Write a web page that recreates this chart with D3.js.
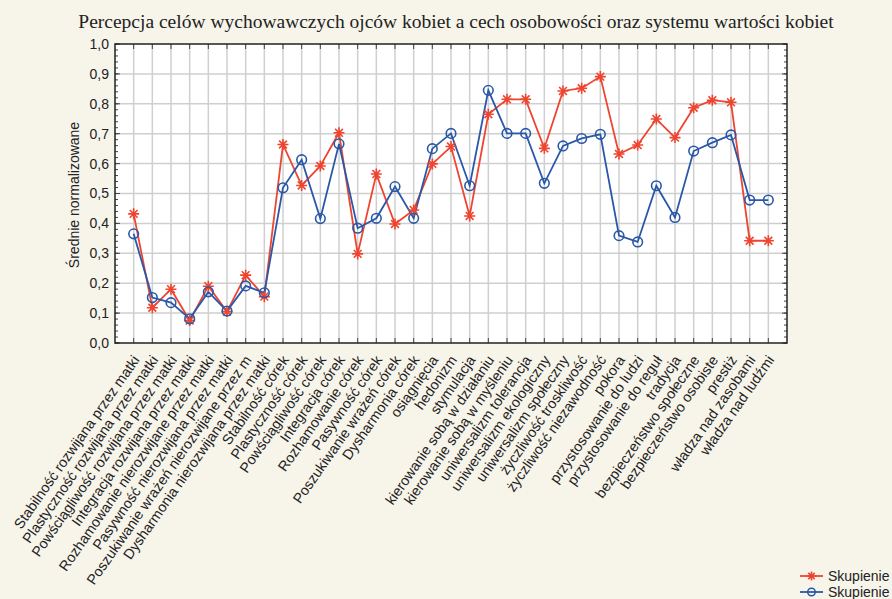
<!DOCTYPE html>
<html><head><meta charset="utf-8">
<script src="https://cdn.jsdelivr.net/npm/d3@7"></script>
<style>body{margin:0;background:#f7f4ea;} svg{display:block;}</style>
</head><body>
<svg id="chart" width="892" height="599"></svg>
<script>
const titleText = "Percepcja celów wychowawczych ojców kobiet a cech osobowości oraz systemu wartości kobiet";
const yLabel = "Średnie normalizowane";
const categories = [
 "Stabilność rozwijana przez matki","Plastyczność rozwijana przez matki","Powściągliwość rozwijana przez matki","Integracja rozwijana przez matki",
 "Rozhamowanie nierozwijane przez matki","Pasywność nierozwijana przez matki","Poszukiwanie wrażeń nierozwijane przez m","Dysharmonia nierozwijana przez matki",
 "Stabilność córek","Plastyczność córek","Powściągliwość córek","Integracja córek","Rozhamowanie córek","Pasywność córek","Poszukiwanie wrażeń córek","Dysharmonia córek",
 "osiągnięcia","hedonizm","stymulacja","kierowanie sobą w działaniu","kierowanie sobą w myśleniu","uniwersalizm tolerancja","uniwersalizm ekologiczny","uniwersalizm społeczny",
 "życzliwość troskliwość","życzliwość niezawodność","pokora","przystosowanie do ludzi","przystosowanie do reguł","tradycja","bezpieczeństwo społeczne","bezpieczeństwo osobiste",
 "prestiż","władza nad zasobami","władza nad ludźmi"];
const seriesRed = [0.432,0.118,0.180,0.075,0.190,0.105,0.227,0.155,0.664,0.527,0.592,0.703,0.298,0.565,0.398,0.445,0.599,0.657,0.425,0.765,0.815,0.815,0.651,0.843,0.852,0.891,0.632,0.662,0.749,0.687,0.787,0.812,0.805,0.342,0.342];
const seriesBlue = [0.365,0.152,0.135,0.081,0.171,0.107,0.191,0.168,0.519,0.613,0.416,0.666,0.384,0.417,0.523,0.417,0.650,0.701,0.526,0.845,0.701,0.701,0.534,0.659,0.684,0.698,0.359,0.338,0.526,0.420,0.642,0.670,0.696,0.478,0.478];
const seriesNames = ["Skupienie","Skupienie"];
const yTicks = [0,0.1,0.2,0.3,0.4,0.5,0.6,0.7,0.8,0.9,1.0];

const svg = d3.select("#chart");
const L=115, R=787, T=44, B=343;
const x = d3.scalePoint().domain(d3.range(categories.length)).range([L,R]).padding(1);
const y = d3.scaleLinear().domain([0,1]).range([B,T]);
const red="#ee4530", blue="#2a58a8";

svg.append("text").attr("x",456).attr("y",28).attr("text-anchor","middle")
  .attr("font-family","'Liberation Serif','Times New Roman',serif").attr("font-size",19.5).attr("fill","#222")
  .text(titleText);

svg.append("rect").attr("x",L).attr("y",T).attr("width",R-L).attr("height",B-T).attr("fill","#fff");

// grid
const g = svg.append("g");
g.selectAll(".hg").data(yTicks.slice(1,-1)).join("line").attr("x1",L).attr("x2",R)
  .attr("y1",d=>y(d)).attr("y2",d=>y(d)).attr("stroke","#cfcfcf").attr("stroke-width",1.5);
g.selectAll(".vg").data(d3.range(categories.length)).join("line").attr("y1",T).attr("y2",B)
  .attr("x1",d=>x(d)).attr("x2",d=>x(d)).attr("stroke","#cfcfcf").attr("stroke-width",1.5);

// y axis
const yAxis = d3.axisLeft(y).tickValues(yTicks).tickFormat(d=>d3.format(".1f")(d).replace(".",",")).tickSize(0).tickPadding(6);
const ya = svg.append("g").attr("transform",`translate(${L},0)`).call(yAxis);
ya.select(".domain").remove();
ya.selectAll("text").attr("font-family","'Liberation Sans',Arial,sans-serif").attr("font-size",14).attr("fill","#222");

// minor ticks
const minor = d3.range(0,1.0001,0.02);
svg.append("g").selectAll("line").data(minor).join("line").attr("x1",L).attr("x2",L+3)
  .attr("y1",d=>y(d)).attr("y2",d=>y(d)).attr("stroke","#444").attr("stroke-width",1);
svg.append("g").selectAll("line").data(minor).join("line").attr("x1",R).attr("x2",R-3)
  .attr("y1",d=>y(d)).attr("y2",d=>y(d)).attr("stroke","#444").attr("stroke-width",1);
svg.append("g").selectAll("line").data(yTicks).join("line").attr("x1",L).attr("x2",L+5)
  .attr("y1",d=>y(d)).attr("y2",d=>y(d)).attr("stroke","#444").attr("stroke-width",1);
svg.append("g").selectAll("line").data(yTicks).join("line").attr("x1",R).attr("x2",R-5)
  .attr("y1",d=>y(d)).attr("y2",d=>y(d)).attr("stroke","#444").attr("stroke-width",1);
svg.append("g").selectAll("line").data(d3.range(categories.length)).join("line").attr("x1",d=>x(d)).attr("x2",d=>x(d))
  .attr("y1",T).attr("y2",T+5).attr("stroke","#444").attr("stroke-width",1);
svg.append("g").selectAll("line").data(d3.range(categories.length)).join("line").attr("x1",d=>x(d)).attr("x2",d=>x(d))
  .attr("y1",B).attr("y2",B-5).attr("stroke","#444").attr("stroke-width",1);

svg.append("rect").attr("x",L).attr("y",T).attr("width",R-L).attr("height",B-T).attr("fill","none").attr("stroke","#222").attr("stroke-width",1.5);

// x labels
const xAxis = d3.axisBottom(x).tickFormat(i=>categories[i]).tickSize(0).tickPadding(0);
const xa = svg.append("g").attr("transform",`translate(0,${B})`).call(xAxis);
xa.select(".domain").remove();
xa.selectAll("text").attr("font-family","'Liberation Sans',Arial,sans-serif").attr("font-size",14.3).attr("fill","#222")
  .attr("text-anchor","end").attr("dy",0).attr("y",0)
  .attr("transform","translate(6,17) rotate(-55)");

// y label
svg.append("text").attr("transform","translate(79,195) rotate(-90)").attr("text-anchor","middle")
  .attr("font-family","'Liberation Sans',Arial,sans-serif").attr("font-size",14).attr("fill","#222").text(yLabel);

// lines
const line = d3.line().x((d,i)=>x(i)).y(d=>y(d));
svg.append("path").datum(seriesRed).attr("d",line).attr("fill","none").attr("stroke",red).attr("stroke-width",1.8);
svg.append("path").datum(seriesBlue).attr("d",line).attr("fill","none").attr("stroke",blue).attr("stroke-width",1.8);

function star(sel, cx, cy, r){
  const p = [];
  for(let k=0;k<4;k++){const a=k*Math.PI/4; p.push(`M${cx-r*Math.cos(a)},${cy-r*Math.sin(a)}L${cx+r*Math.cos(a)},${cy+r*Math.sin(a)}`);}
  sel.append("path").attr("d",p.join("")).attr("stroke",red).attr("stroke-width",1.6).attr("fill","none");
}
const rg = svg.append("g");
seriesRed.forEach((v,i)=>star(rg, x(i), y(v), 5.5));
svg.append("g").selectAll("circle").data(seriesBlue).join("circle").attr("cx",(d,i)=>x(i)).attr("cy",d=>y(d))
  .attr("r",4.8).attr("fill","none").attr("stroke",blue).attr("stroke-width",1.6);

// legend
const lg = svg.append("g");
[[576,red,0],[592,blue,1]].forEach(([ly,c,k])=>{
  lg.append("line").attr("x1",800).attr("x2",823).attr("y1",ly).attr("y2",ly).attr("stroke",c).attr("stroke-width",1.8);
  if(k===0) star(lg, 811.5, ly, 4.5);
  else lg.append("circle").attr("cx",811.5).attr("cy",ly).attr("r",3.8).attr("fill","none").attr("stroke",c).attr("stroke-width",1.5);
  lg.append("text").attr("x",828).attr("y",ly+5).attr("font-family","'Liberation Sans',Arial,sans-serif").attr("font-size",14).attr("fill","#222").text(seriesNames[k]);
});
</script>
</body></html>
